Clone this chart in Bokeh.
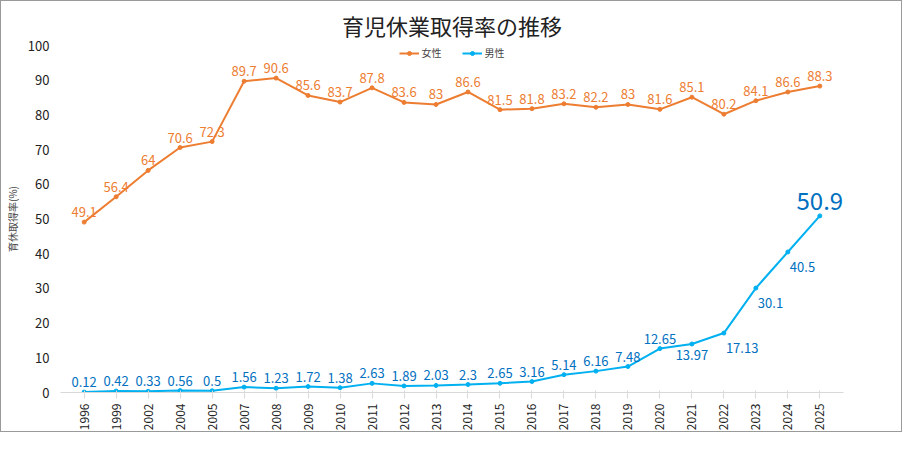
from bokeh.plotting import figure
from bokeh.models import ColumnDataSource, Legend, LegendItem, FixedTicker
from bokeh.embed import file_html
from bokeh.resources import INLINE
from bokeh.core.properties import value

years = ["1996","1999","2002","2004","2005","2007","2008","2009","2010","2011","2012","2013",
         "2014","2015","2016","2017","2018","2019","2020","2021","2022","2023","2024","2025"]
female = [49.1,56.4,64,70.6,72.3,89.7,90.6,85.6,83.7,87.8,83.6,83,86.6,81.5,81.8,83.2,82.2,83,81.6,85.1,80.2,84.1,86.6,88.3]
male = [0.12,0.42,0.33,0.56,0.5,1.56,1.23,1.72,1.38,2.63,1.89,2.03,2.3,2.65,3.16,5.14,6.16,7.48,12.65,13.97,17.13,30.1,40.5,50.9]
female_lbl = [f"{v:g}" for v in female]
male_lbl = ["0.12","0.42","0.33","0.56","0.5","1.56","1.23","1.72","1.38","2.63","1.89","2.03","2.3","2.65","3.16","5.14","6.16","7.48","12.65","13.97","17.13","30.1","40.5","50.9"]

ORANGE = "#ED7D31"
BLUE = "#00B0F0"
BLUE_T = "#0070C0"
FONT = "Noto Sans CJK JP"

p = figure(x_range=years, y_range=(0, 100), width=902, height=432, output_backend="svg",
           toolbar_location=None, title="育児休業取得率の推移", min_border_right=60,
           min_border_top=26, min_border_left=10)
p.styles = {"border": "1px solid #9a9a9a"}
p.title.align = "center"
p.title.text_font = FONT
p.title.text_font_size = "22px"
p.title.text_font_style = "normal"
p.title.text_color = "#222222"

fs = ColumnDataSource(dict(x=years, y=female, t=female_lbl))
l1 = p.line("x", "y", source=fs, color=ORANGE, line_width=2)
c1 = p.scatter("x", "y", source=fs, color=ORANGE, size=4)
p.text("x", "y", text="t", source=fs, text_color=ORANGE, text_font=value(FONT),
       text_font_size="13px", text_align="center", text_baseline="bottom", y_offset=-5)

ms = ColumnDataSource(dict(x=years, y=male))
l2 = p.line("x", "y", source=ms, color=BLUE, line_width=2)
c2 = p.scatter("x", "y", source=ms, color=BLUE, size=4)

above = ColumnDataSource(dict(x=years[:19], y=male[:19], t=male_lbl[:19]))
p.text("x", "y", text="t", source=above, text_color=BLUE_T, text_font=value(FONT),
       text_font_size="13px", text_align="center", text_baseline="bottom", y_offset=-5)
below = ColumnDataSource(dict(x=years[19:20], y=male[19:20], t=male_lbl[19:20]))
p.text("x", "y", text="t", source=below, text_color=BLUE_T, text_font=value(FONT),
       text_font_size="13px", text_align="center", text_baseline="top", y_offset=6)
right = ColumnDataSource(dict(x=years[20:23], y=male[20:23], t=male_lbl[20:23]))
p.text("x", "y", text="t", source=right, text_color=BLUE_T, text_font=value(FONT),
       text_font_size="13px", text_align="left", text_baseline="top", x_offset=2, y_offset=10)
big = ColumnDataSource(dict(x=years[23:], y=male[23:], t=male_lbl[23:]))
p.text("x", "y", text="t", source=big, text_color=BLUE_T, text_font=value(FONT),
       text_font_size="24px", text_align="center", text_baseline="bottom", y_offset=-6)

legend = Legend(items=[LegendItem(label="女性", renderers=[l1, c1]),
                       LegendItem(label="男性", renderers=[l2, c2])],
                orientation="horizontal", location="top_center", border_line_color=None,
                background_fill_alpha=0,
                label_text_font=FONT, label_text_font_size="10px", glyph_width=20,
                glyph_height=10, label_height=10,
                spacing=20, padding=0, margin=0, label_standoff=3)
p.add_layout(legend)

p.yaxis.ticker = FixedTicker(ticks=list(range(0, 101, 10)))
p.yaxis.axis_label = "育休取得率(%)"
p.yaxis.axis_label_text_font = FONT
p.yaxis.axis_label_text_font_size = "10px"
p.yaxis.axis_label_text_font_style = "normal"
p.yaxis.axis_line_color = None
p.yaxis.major_tick_line_color = None
p.yaxis.minor_tick_line_color = None
p.yaxis.major_label_text_font_size = "13px"
p.xaxis.major_label_orientation = 1.5708
p.xaxis.major_label_text_font_size = "12px"
p.xaxis.axis_line_color = "#d9d9d9"
p.xaxis.major_tick_line_color = "#d9d9d9"
p.axis.major_label_text_color = "#222222"
p.axis.major_label_text_font = FONT
p.xgrid.grid_line_color = None
p.ygrid.grid_line_color = None
p.outline_line_color = None
p.x_range.range_padding = 0.02

open("out.html", "w").write(file_html(p, INLINE))
